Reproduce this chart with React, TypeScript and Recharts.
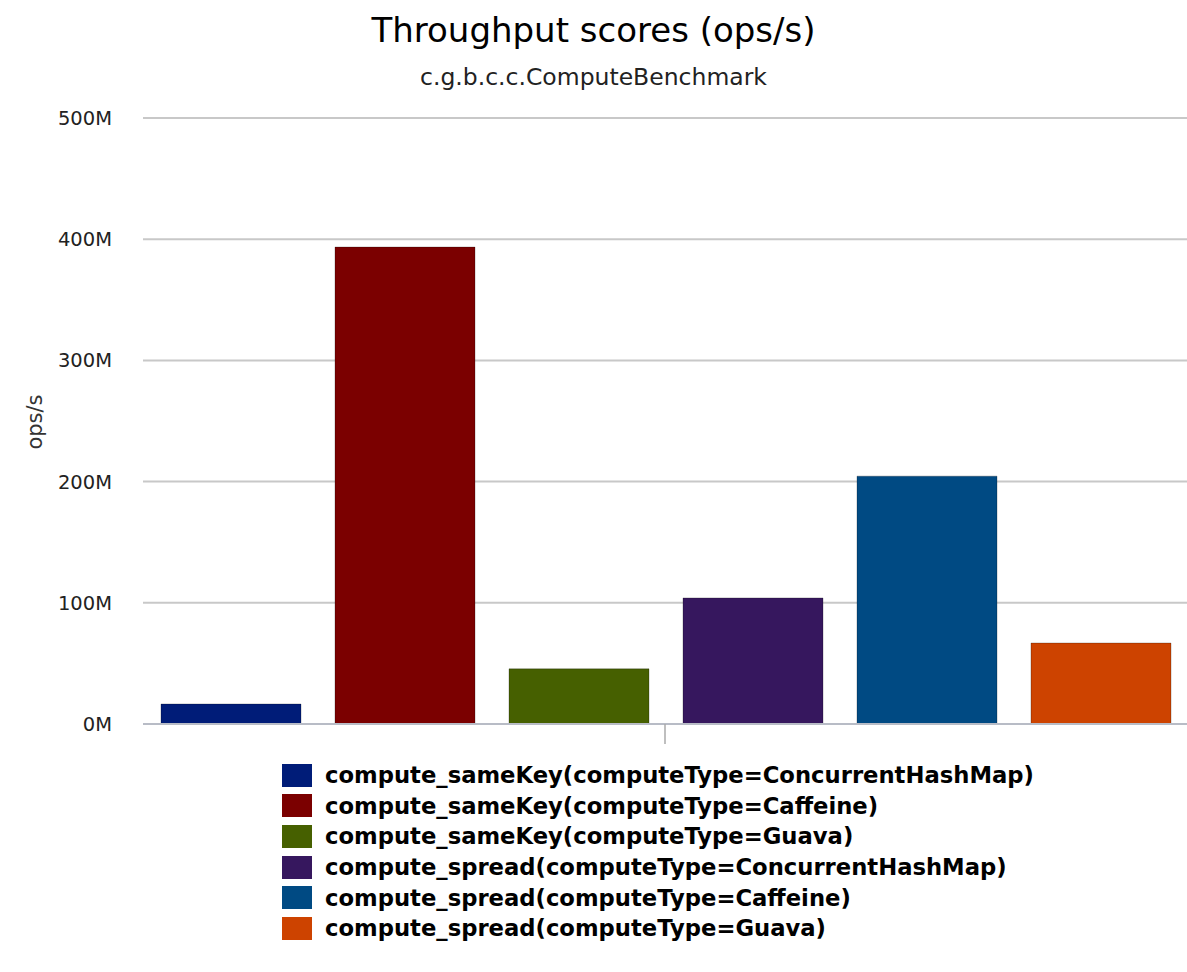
import { BarChart, Bar, XAxis, YAxis, CartesianGrid } from 'recharts';

const categories = ['c.g.b.c.c.ComputeBenchmark'];

const seriesNames = [
    'compute_sameKey(computeType=ConcurrentHashMap)',
    'compute_sameKey(computeType=Caffeine)',
    'compute_sameKey(computeType=Guava)',
    'compute_spread(computeType=ConcurrentHashMap)',
    'compute_spread(computeType=Caffeine)',
    'compute_spread(computeType=Guava)',
];

// ops/s, one value per series
const seriesValues = [16.5e6, 393.5e6, 45.5e6, 104e6, 204.5e6, 66.8e6];

const seriesColors = ['#001c78', '#7b0000', '#466000', '#36175e', '#004a83', '#cd4300'];

const yTicks = [0, 100e6, 200e6, 300e6, 400e6, 500e6];

const font = '"DejaVu Sans", sans-serif';

const data = categories.map((name) => {
    const row: any = { name };
    seriesNames.forEach((s, i) => {
        row['s' + i] = seriesValues[i];
    });
    return row;
});

export default function App() {
    return (
        <div style={{ position: 'absolute', left: 0, top: 0, width: 1187, height: 972, background: '#fff', fontFamily: font }}>
            <div style={{ position: 'absolute', top: 10, left: 0, width: 1187, textAlign: 'center', fontSize: 34, color: '#000' }}>
                Throughput scores (ops/s)
            </div>
            <div style={{ position: 'absolute', top: 63, left: 0, width: 1187, textAlign: 'center', fontSize: 23.5, color: '#222' }}>
                c.g.b.c.c.ComputeBenchmark
            </div>
            <div
                style={{
                    position: 'absolute',
                    left: 35,
                    top: 422,
                    transform: 'translate(-50%, -50%) rotate(-90deg)',
                    fontSize: 21,
                    color: '#333',
                    whiteSpace: 'nowrap',
                }}
            >
                ops/s
            </div>
            <div style={{ position: 'absolute' }}>
                <BarChart
                    width={1187}
                    height={972}
                    data={data}
                    margin={{ top: 118, right: 0, left: 0, bottom: 228 }}
                    barCategoryGap={18}
                    barGap={34}
                >
                    <CartesianGrid vertical={false} stroke="#c8c8c8" strokeWidth={2} />
                    <XAxis
                        dataKey="name"
                        tickFormatter={() => ''}
                        axisLine={{ stroke: '#b8bcc6', strokeWidth: 2 }}
                        tickLine={{ stroke: '#aaaaaa', strokeWidth: 1.5 }}
                        tickSize={20}
                        height={20}
                    />
                    <YAxis
                        width={143}
                        domain={[0, 500e6]}
                        ticks={yTicks}
                        interval={0}
                        axisLine={false}
                        tickLine={false}
                        tickSize={0}
                        tickMargin={31}
                        tickFormatter={(v) => `${Math.round(v / 1e6)}M`}
                        tick={{ fill: '#222', fontSize: 19.5, fontFamily: font }}
                    />
                    {seriesNames.map((s, i) => (
                        <Bar
                            key={s}
                            dataKey={'s' + i}
                            name={s}
                            fill={seriesColors[i]}
                            stroke="rgba(0,0,0,0.25)"
                            strokeWidth={1}
                            isAnimationActive={false}
                        />
                    ))}
                </BarChart>
            </div>
            <div style={{ position: 'absolute', top: 760, left: 282 }}>
                {seriesNames.map((s, i) => (
                    <div key={s} style={{ display: 'flex', alignItems: 'center', height: 30.6 }}>
                        <span
                            style={{
                                display: 'inline-block',
                                width: 30,
                                height: 23,
                                background: seriesColors[i],
                                marginRight: 13,
                            }}
                        />
                        <span style={{ fontSize: 22.7, fontWeight: 'bold', color: '#000', whiteSpace: 'nowrap' }}>{s}</span>
                    </div>
                ))}
            </div>
        </div>
    );
}
